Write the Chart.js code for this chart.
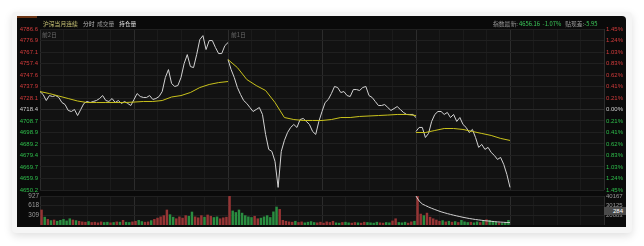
<!DOCTYPE html>
<html>
<head>
<meta charset="utf-8">
<script src="https://cdn.jsdelivr.net/npm/chart.js@4.4.0/dist/chart.umd.min.js"></script>
<style>
html, body { margin: 0; padding: 0; background: #fff; width: 644px; height: 246px; overflow: hidden; }
#card { position: absolute; left: 12px; top: 12px; width: 620px; height: 221px; background: #f5f5f5; border-radius: 4px; box-shadow: 0 3px 8px rgba(0,0,0,.13); }
#panel { position: absolute; left: 17px; top: 16px; width: 609px; height: 211px; background: #0a0a0a; border-top-right-radius: 4px; overflow: hidden; font-family: "Noto Sans CJK SC", "Liberation Sans", sans-serif; }
#panel canvas { position: absolute; left: 0; }
.t { position: absolute; font-size: 5.8px; line-height: 7px; white-space: nowrap; }
#strip { position: absolute; left: 0; top: 0; width: 20px; height: 2px; background: #6b3414; }
#tag { position: absolute; left: 587px; top: 191px; width: 22px; height: 8px; background: #4a4a4a; color: #fff; font: 6px "Liberation Sans", sans-serif; line-height: 8px; text-align: right; box-sizing: border-box; padding-right: 3px; }
</style>
</head>
<body>
<div id="card"></div>
<div id="panel">
  <div id="strip"></div>
  <canvas id="priceChart" width="609" height="181" style="top:0"></canvas>
  <canvas id="volChart" width="609" height="43" style="top:173px"></canvas>
  <span class="t" style="left:26px;top:4px;color:#c9c476">沪深当月连续</span>
  <span class="t" style="left:66px;top:4px;color:#bbb">分时</span>
  <span class="t" style="left:80px;top:4px;color:#999">成交量</span>
  <span class="t" style="left:102px;top:4px;color:#ddd">持仓量</span>
  <span class="t" style="left:476px;top:4px;color:#999">指数最新: <span style="color:#3cc95a">4656.16 &nbsp;-1.07%</span> &nbsp; 贴现差:<span style="color:#3cc95a">-5.95</span></span>
  <span class="t" style="left:25px;top:15px;color:#6a6a6a">前2日</span>
  <span class="t" style="left:214px;top:15px;color:#6a6a6a">前1日</span>
  <div id="tag">284</div>
</div>
<script>
// axis ticks
const prevClose = 4718.4;
const priceTicks = [4786.6, 4776.9, 4767.1, 4757.4, 4747.6, 4737.9, 4728.1, 4718.4, 4708.7, 4698.9, 4689.2, 4679.4, 4669.7, 4659.9, 4650.2];
const pctTicks = ['1.45%', '1.24%', '1.03%', '0.83%', '0.62%', '0.41%', '0.21%', '0.00%', '0.21%', '0.41%', '0.62%', '0.83%', '1.03%', '1.24%', '1.45%'];
const volTicks = [309, 618, 927];
const oiTicks = [20083, 30125, 40167];

// minute prices, one value every 4 minutes (240 minutes per day)
const day1Price = [4733.6, 4731.1, 4726.0, 4730.2, 4729.4, 4730.2, 4728.6, 4724.3, 4722.6, 4717.6,
  4716.7, 4718.4, 4713.3, 4718.4, 4723.5, 4725.2, 4724.3, 4725.2, 4726.0, 4727.7,
  4730.2, 4726.0, 4725.2, 4727.7, 4724.3, 4726.0, 4723.5, 4725.2, 4723.5, 4721.8,
  4726.9, 4731.9, 4729.4, 4728.6, 4728.6, 4730.2, 4726.9, 4727.7, 4729.4, 4733.6,
  4745.5, 4752.2, 4740.4, 4737.9, 4738.7, 4745.5, 4757.3, 4764.9, 4754.8, 4753.9,
  4764.9, 4777.6, 4781.0, 4769.2, 4776.8, 4776.8, 4770.9, 4765.8, 4765.8, 4772.5, 4775.1];
const day2Price = [4760.7, 4752.2, 4745.5, 4737.0, 4731.1, 4726.0, 4723.5, 4720.1, 4716.7, 4718.4,
  4720.1, 4714.2, 4697.3, 4684.6, 4682.9, 4674.4, 4652.4, 4682.9, 4692.2, 4698.9,
  4703.2, 4705.7, 4703.2, 4709.9, 4710.8, 4708.3, 4705.7, 4699.8, 4697.3, 4708.3,
  4716.7, 4724.3, 4726.9, 4731.9, 4737.9, 4737.0, 4732.8, 4733.6, 4730.2, 4729.4,
  4735.3, 4735.3, 4734.5, 4737.0, 4737.9, 4730.2, 4728.6, 4725.2, 4721.8, 4721.8,
  4722.6, 4720.1, 4717.6, 4719.2, 4720.9, 4718.4, 4715.9, 4714.2, 4714.2, 4714.2, 4711.6];
const day3Price = [4699.8, 4703.2, 4703.2, 4694.7, 4698.1, 4708.3, 4714.2, 4716.7, 4716.7, 4714.2,
  4715.9, 4711.6, 4714.2, 4708.3, 4711.6, 4705.7, 4703.2, 4698.9, 4701.5, 4694.7,
  4686.3, 4688.8, 4684.6, 4686.3, 4682.0, 4679.5, 4676.1, 4677.8, 4671.9, 4663.4, 4652.4];

// average price, one value every 12 minutes
const day1Avg = [4733.6, 4731.9, 4729.8, 4727.7, 4725.6, 4724.3, 4724.3, 4724.3, 4724.3, 4724.3, 4724.7,
  4725.2, 4725.2, 4726.0, 4729.0, 4730.2, 4732.8, 4737.0, 4739.6, 4741.2, 4742.1];
const day2Avg = [4760.7, 4753.9, 4743.8, 4738.7, 4734.5, 4724.3, 4711.6, 4709.9, 4709.1, 4709.1, 4709.1,
  4709.9, 4711.6, 4711.6, 4712.5, 4712.9, 4713.3, 4713.7, 4714.2, 4714.2, 4713.3];
const day3Avg = [4698.9, 4698.9, 4700.6, 4702.3, 4702.3, 4701.5, 4699.8, 4698.1, 4696.4, 4693.9, 4692.2];

// volume per 4 minutes
const day1Vol = [480, 250, 180, 140, 160, 120, 150, 180, 130, 200, 160, 140, 120, 100, 90, 110, 80, 90, 70, 100,
  80, 90, 70, 80, 100, 90, 150, 90, 80, 100, 120, 150, 110, 90, 100, 140, 180, 220, 260, 300,
  480, 330, 250, 200, 260, 220, 300, 280, 415, 260, 230, 300, 250, 320, 280, 240, 260, 200, 230, 250];
const day2Vol = [927, 450, 400, 480, 380, 300, 260, 240, 280, 200, 220, 260, 300, 240, 420, 575, 500, 150, 120, 100,
  90, 120, 80, 100, 70, 90, 110, 80, 70, 90, 60, 100, 80, 120, 70, 60, 80, 90, 70, 60,
  80, 70, 60, 90, 80, 70, 60, 90, 70, 60, 80, 70, 130, 200, 80, 70, 90, 60, 100, 120];
const day3Vol = [927, 350, 300, 380, 250, 200, 160, 120, 140, 100, 120, 90, 110, 80, 150, 100, 80, 90, 70, 100,
  80, 130, 170, 150, 120, 90, 60, 50, 70, 150];

// open interest today, every 4 minutes
const day3Oi = [40100, 34972, 31856, 30298, 28739, 27389, 26142, 24896, 23753, 22818, 21883, 21052, 20221, 19494,
  18767, 18040, 17416, 16793, 16274, 15754, 15339, 14923, 14508, 14196, 13885, 13573, 13261, 13054, 12846, 12638, 12534];

const dayStart = [0, 240, 480];
const RED = '#d23c3c', GREEN = '#2fbf4c';

const pts = (arr, start, step) => arr.map((v, i) => ({ x: start + i * step, y: v }));

const areaBg = {
  id: 'areaBg',
  beforeDraw(chart) {
    const a = chart.chartArea, c = chart.ctx;
    c.save();
    c.fillStyle = '#121212';
    c.fillRect(a.left, a.top, a.right - a.left, a.bottom - a.top);
    c.restore();
  }
};

const xScale = {
  type: 'linear', min: 0, max: 720, offset: false,
  afterBuildTicks: ax => { ax.ticks = []; for (let m = 0; m <= 720; m += 30) ax.ticks.push({ value: m }); },
  afterFit: ax => { ax.height = 0; },
  ticks: { display: false },
  border: { display: false },
  grid: { offset: false, drawTicks: false,
    color: c => (c.tick && c.tick.value % 120 === 0 ? '#2c2c2c' : '#1b1b1b') }
};

const priceColor = v => (v > prevClose + 0.01 ? RED : v < prevClose - 0.01 ? GREEN : '#cfcfcf');
const tickFont = { family: 'Liberation Sans', size: 6 };

const lineDs = (data, color) => ({
  type: 'line', data, borderColor: color, borderWidth: 1, pointRadius: 0, tension: 0, fill: false
});

new Chart(document.getElementById('priceChart'), {
  type: 'line',
  data: {
    datasets: [
      lineDs(pts(day1Avg, dayStart[0], 12), '#c9c21c'),
      lineDs(pts(day2Avg, dayStart[1], 12), '#c9c21c'),
      lineDs(pts(day3Avg, dayStart[2], 12), '#c9c21c'),
      lineDs(pts(day1Price, dayStart[0], 4), '#d2d2d2'),
      lineDs(pts(day2Price, dayStart[1], 4), '#d2d2d2'),
      lineDs(pts(day3Price, dayStart[2], 4), '#d2d2d2')
    ]
  },
  options: {
    responsive: false, animation: false, devicePixelRatio: 1,
    layout: { padding: { top: 13, bottom: 7, left: 0, right: 0 } },
    plugins: { legend: { display: false }, tooltip: { enabled: false } },
    scales: {
      x: xScale,
      y: {
        position: 'left', min: 4650.2, max: 4786.6,
        afterBuildTicks: ax => { ax.ticks = priceTicks.map(v => ({ value: v })); },
        afterFit: ax => { ax.width = 23; },
        border: { display: false },
        grid: { drawTicks: false, color: c => (c.tick && c.tick.value === prevClose ? '#2a2a2a' : '#202020') },
        ticks: { autoSkip: false, padding: 2, font: tickFont, color: c => priceColor(c.tick.value),
          callback: v => v.toFixed(1) }
      },
      yr: {
        position: 'right', min: 4650.2, max: 4786.6,
        afterBuildTicks: ax => { ax.ticks = priceTicks.map(v => ({ value: v })); },
        afterFit: ax => { ax.width = 22; },
        border: { display: false },
        grid: { display: false, drawTicks: false },
        ticks: { autoSkip: false, padding: 2, font: tickFont, color: c => priceColor(c.tick.value),
          callback: v => pctTicks[priceTicks.indexOf(v)] }
      }
    }
  },
  plugins: [areaBg]
});

// volume bars, coloured by price direction within the 4 minute slot
const prices = [day1Price, day2Price, day3Price];
const vols = [day1Vol, day2Vol, day3Vol];
const volData = [], volColors = [];
vols.forEach((arr, d) => {
  arr.forEach((v, i) => {
    volData.push({ x: dayStart[d] + i * 4 + 2, y: v });
    const p = prices[d];
    const up = i === 0 || p[i + 1] >= p[i];
    volColors.push(up ? '#963434' : '#2a8d40');
  });
});

new Chart(document.getElementById('volChart'), {
  data: {
    datasets: [
      { type: 'bar', data: volData, backgroundColor: volColors, barThickness: 1.8, yAxisID: 'y', order: 2 },
      Object.assign(lineDs(pts(day3Oi, dayStart[2], 4), '#cfcfcf'), { yAxisID: 'oi', order: 1 })
    ]
  },
  options: {
    responsive: false, animation: false, devicePixelRatio: 1,
    layout: { padding: { top: 7, bottom: 7, left: 0, right: 0 } },
    plugins: { legend: { display: false }, tooltip: { enabled: false } },
    scales: {
      x: xScale,
      y: {
        position: 'left', min: 0, max: 927,
        afterBuildTicks: ax => { ax.ticks = volTicks.map(v => ({ value: v })); },
        afterFit: ax => { ax.width = 23; },
        border: { display: false },
        grid: { drawTicks: false, color: '#202020' },
        ticks: { autoSkip: false, padding: 1, font: { family: 'Liberation Sans', size: 6.4 }, color: '#9a9a9a',
          callback: v => String(v) }
      },
      oi: {
        position: 'right', min: 10041, max: 40167,
        afterBuildTicks: ax => { ax.ticks = oiTicks.map(v => ({ value: v })); },
        afterFit: ax => { ax.width = 22; },
        border: { display: false },
        grid: { display: false, drawTicks: false },
        ticks: { autoSkip: false, padding: 2, font: tickFont, color: '#9a9a9a', callback: v => String(v) }
      }
    }
  },
  plugins: [areaBg]
});
</script>
</body>
</html>
